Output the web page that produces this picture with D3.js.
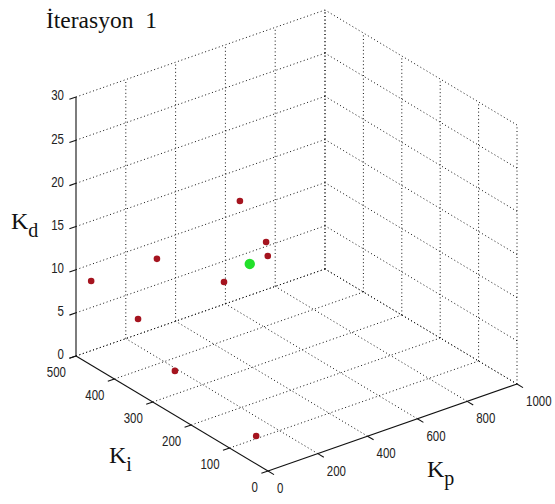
<!DOCTYPE html>
<html><head><meta charset="utf-8">
<script src="https://cdn.jsdelivr.net/npm/d3@7"></script>
<style>
body{margin:0;background:#fff;}
svg{display:block;}
.tick{font-family:"Liberation Sans",Arial,sans-serif;font-size:14px;fill:#222;}
.lbl{font-family:"Liberation Serif","Times New Roman",serif;fill:#111;}
</style></head>
<body>
<svg id="chart" width="555" height="504"></svg>
<script>
// ---- data ----
const titleText = "İterasyon  1";
const kpTicks = [0, 200, 400, 600, 800, 1000];
const kiTicks = [0, 100, 200, 300, 400, 500];
const kdTicks = [0, 5, 10, 15, 20, 25, 30];
// particles (red) : [Kp, Ki, Kd]
const particleKp = [487, 526, 508, 251, 27, 360, 95, 78, 45];
const particleKi = [389, 346, 330, 452, 478, 348, 400, 293, 60];
const particleKd = [16, 12, 11, 10, 9, 9, 6, 3, 2];
// best (green)
const bestKp = [465];
const bestKi = [349];
const bestKd = [10];

// ---- projection through d3 scales ----
const origin = [268, 471];
const kpVec = [249, -87];
const kiVec = [-192, -115];
const kdLen = 259;
const sKp = d3.scaleLinear().domain([0, 1000]).range([0, 1]);
const sKi = d3.scaleLinear().domain([0, 500]).range([0, 1]);
const sKd = d3.scaleLinear().domain([0, 30]).range([0, kdLen]);
function P(kp, ki, kd) {
  const a = sKp(kp), b = sKi(ki);
  return [origin[0] + a * kpVec[0] + b * kiVec[0],
          origin[1] + a * kpVec[1] + b * kiVec[1] - sKd(kd)];
}

const svg = d3.select("#chart");
const line = d3.line();

// ---- grid ----
const grid = svg.append("g").attr("fill", "none").attr("stroke", "#111")
  .attr("stroke-width", 1).attr("stroke-dasharray", "1,2.6");
const segs = [];
kpTicks.forEach(v => { if (v > 0) segs.push([P(v, 0, 0), P(v, 500, 0)]); });
kiTicks.forEach(v => { if (v > 0) segs.push([P(0, v, 0), P(1000, v, 0)]); });
kpTicks.forEach(v => { if (v > 0) segs.push([P(v, 500, 0), P(v, 500, 30)]); });
kdTicks.forEach(v => segs.push([P(0, 500, v), P(1000, 500, v)]));
kiTicks.forEach(v => segs.push([P(1000, v, 0), P(1000, v, 30)]));
kdTicks.forEach(v => segs.push([P(1000, 0, v), P(1000, 500, v)]));
grid.selectAll("path").data(segs).join("path").attr("d", d => line(d));

// ---- axes ----
const ax = svg.append("g").attr("fill", "none").attr("stroke", "#111").attr("stroke-width", 1.1);
ax.append("path").attr("d", line([P(0, 0, 0), P(1000, 0, 0)]));
ax.append("path").attr("d", line([P(0, 0, 0), P(0, 500, 0)]));
ax.append("path").attr("d", line([P(0, 500, 0), P(0, 500, 30)]));

const tl = 7;
const kiDir = [0.858, 0.514];
const kpDir = [-0.944, 0.33];
kpTicks.forEach(v => { const p = P(v, 0, 0);
  ax.append("path").attr("d", line([p, [p[0] + kiDir[0] * tl, p[1] + kiDir[1] * tl]])); });
kiTicks.forEach(v => { const p = P(0, v, 0);
  ax.append("path").attr("d", line([p, [p[0] + kpDir[0] * tl, p[1] + kpDir[1] * tl]])); });
kdTicks.forEach(v => { const p = P(0, 500, v);
  ax.append("path").attr("d", line([p, [p[0] + kpDir[0] * tl, p[1] + kpDir[1] * tl]])); });

// tick labels (horizontally condensed)
const tg = svg.append("g").attr("class", "tick");
function tickText(x, y, anchor, v) {
  tg.append("text").attr("transform", `translate(${x},${y}) scale(0.82,1)`)
    .attr("dy", "0.35em").attr("text-anchor", anchor).text(v);
}
kpTicks.forEach(v => { const p = P(v, 0, 0); tickText(p[0] + 9, p[1] + 17, "start", v); });
kiTicks.forEach(v => { const p = P(0, v, 0); tickText(p[0] - 10, p[1] + 16.5, "end", v); });
kdTicks.forEach(v => { const p = P(0, 500, v); tickText(p[0] - 12, p[1] - 1.5, "end", v); });

// ---- points ----
const reds = particleKp.map((d, i) => P(d, particleKi[i], particleKd[i]));
svg.append("g").selectAll("circle").data(reds).join("circle")
  .attr("cx", d => d[0]).attr("cy", d => d[1]).attr("r", 3.3).attr("fill", "#a5141f");
const greens = bestKp.map((d, i) => P(d, bestKi[i], bestKd[i]));
svg.append("g").selectAll("circle").data(greens).join("circle")
  .attr("cx", d => d[0]).attr("cy", d => d[1]).attr("r", 5.2).attr("fill", "#22e02a");

// ---- title & labels ----
svg.append("text").attr("class", "lbl").attr("x", 46).attr("y", 28)
  .attr("font-size", 23.5).style("white-space", "pre").text(titleText);
function kLabel(x, y, sub) {
  const t = svg.append("text").attr("class", "lbl").attr("x", x).attr("y", y).attr("font-size", 24);
  t.append("tspan").text("K");
  t.append("tspan").attr("dy", 8).attr("font-size", 20).text(sub);
}
kLabel(11, 229, "d");
kLabel(109, 463, "i");
kLabel(427, 477, "p");
</script>
</body></html>
